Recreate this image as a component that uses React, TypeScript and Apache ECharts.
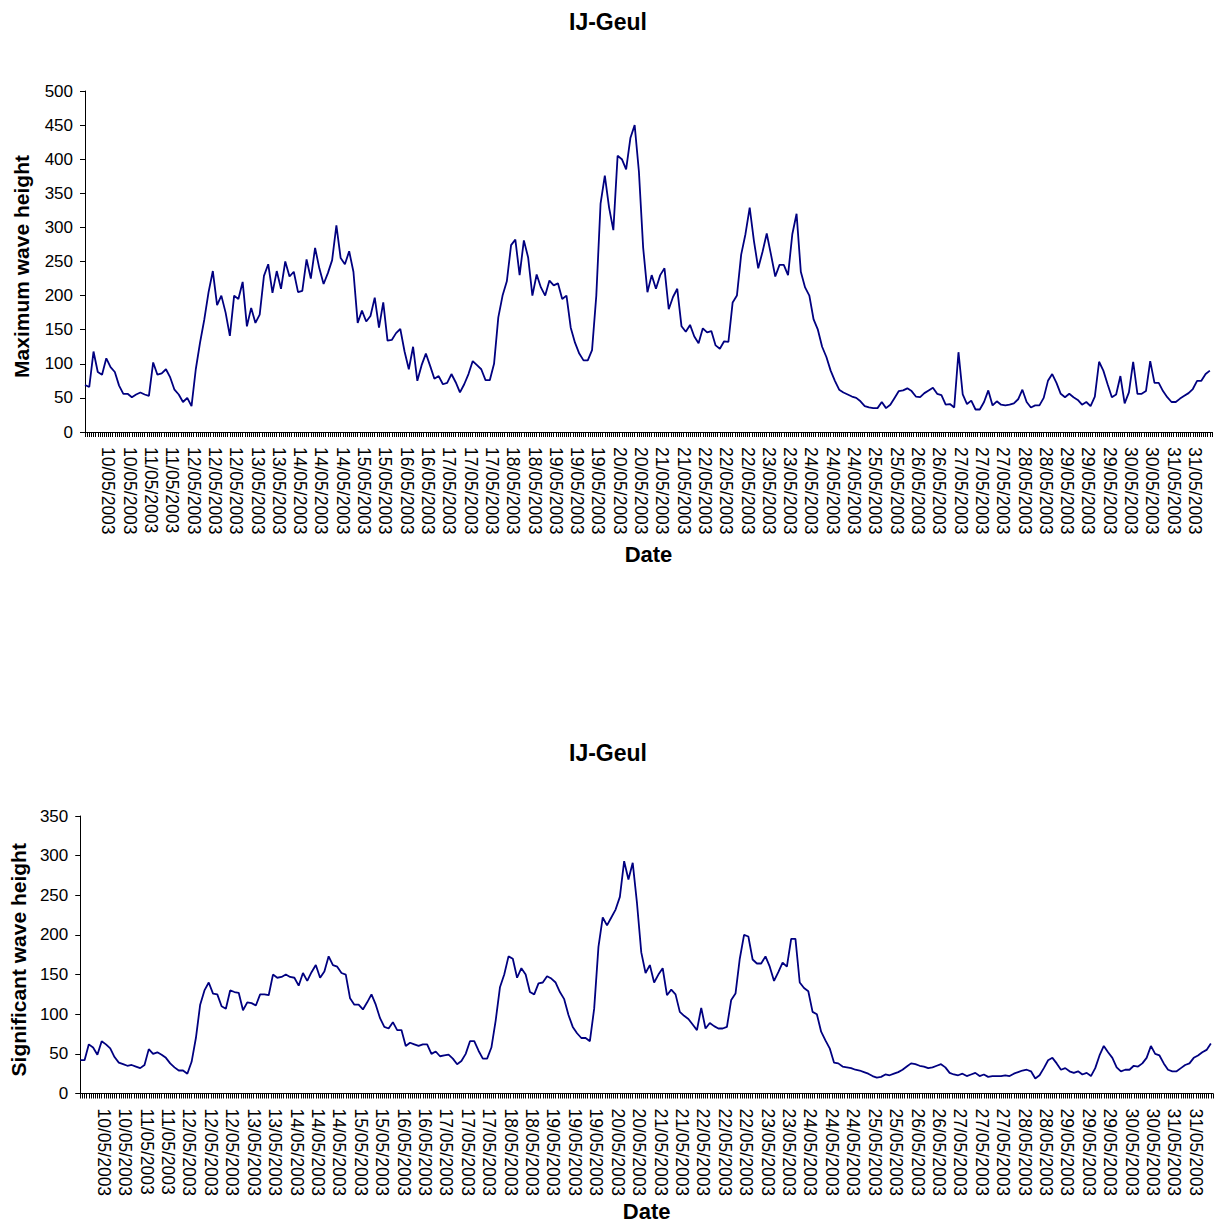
import React, { useEffect, useRef } from "react";
import * as echarts from "echarts";

// Hourly category axis: first category 09/05/2003 21:00, 530 hours in total
const START_UTC = Date.UTC(2003, 4, 9, 21);
const HOURS = 530;
const STEP = 2; // hours between the readings below
const FIRST_LABEL = 11; // 10/05/2003 08:00
const LABEL_EVERY = 10;

const pad = (n: number) => (n < 10 ? "0" + n : "" + n);
const categories: string[] = Array.from({ length: HOURS }, (_, i) => {
  const d = new Date(START_UTC + i * 3600000);
  return `${pad(d.getUTCDate())}/${pad(d.getUTCMonth() + 1)}/${d.getUTCFullYear()}`;
});

// Maximum wave height, one reading every 2 hours
const maxWave = [
  69, 66, 118, 88, 84, 108, 95, 88, 68, 56,
  56, 51, 55, 58, 55, 53, 102, 84, 86, 92,
  80, 62, 55, 44, 50, 38, 92, 131, 165, 205,
  236, 186, 200, 175, 141, 200, 195, 220, 155, 182,
  160, 172, 229, 246, 204, 236, 210, 250, 228, 235,
  205, 207, 253, 225, 270, 240, 217, 233, 252, 303,
  255, 246, 265, 235, 160, 178, 162, 170, 197, 153,
  190, 134, 135, 145, 151, 118, 92, 125, 75, 98,
  115, 97, 78, 82, 70, 72, 85, 73, 58, 70,
  85, 104, 98, 92, 76, 76, 100, 168, 200, 221,
  274, 282, 230, 281, 256, 200, 231, 212, 200, 222,
  215, 218, 195, 200, 153, 131, 115, 105, 105, 120,
  200, 335, 376, 329, 296, 405, 400, 385, 431, 450,
  382, 270, 205, 230, 210, 230, 240, 180, 198, 210,
  155, 147, 157, 140, 130, 152, 146, 148, 127, 122,
  133, 132, 190, 200, 260, 290, 329, 280, 240, 264,
  291, 260, 228, 245, 245, 230, 290, 320, 235, 212,
  200, 165, 150, 125, 110, 90, 75, 62, 58, 55,
  52, 50, 45, 38, 36, 35, 35, 44, 35, 40,
  50, 60, 61, 64, 60, 52, 51, 57, 61, 65,
  56, 54, 40, 41, 36, 117, 55, 41, 46, 33,
  33, 44, 61, 39, 45, 40, 39, 40, 42, 48,
  62, 44, 36, 39, 39, 50, 75, 85, 72, 56,
  51, 56, 51, 47, 40, 44, 38, 52, 103, 90,
  70, 51, 55, 82, 42, 58, 103, 56, 56, 60,
  104, 72, 72, 60, 51, 44, 44, 49, 53, 57,
  63, 75, 75, 85, 90,
];

// Significant wave height, one reading every 2 hours
const sigWave = [
  42, 42, 62, 58, 49, 66, 62, 57, 46, 39,
  37, 35, 36, 34, 32, 36, 56, 50, 52, 49,
  45, 38, 33, 29, 29, 25, 40, 70, 112, 130,
  140, 126, 125, 110, 107, 130, 128, 127, 105, 115,
  114, 111, 125, 125, 124, 150, 146, 147, 150, 147,
  146, 136, 152, 142, 153, 162, 146, 154, 173, 162,
  160, 152, 150, 120, 112, 112, 106, 115, 125, 112,
  95, 84, 82, 90, 80, 80, 60, 64, 62, 60,
  62, 62, 50, 53, 47, 48, 49, 44, 37, 41,
  50, 66, 66, 54, 44, 44, 58, 92, 134, 150,
  173, 170, 146, 158, 150, 128, 125, 139, 140, 148,
  145, 140, 128, 119, 99, 84, 76, 70, 70, 66,
  107, 185, 222, 212, 222, 232, 248, 293, 270, 291,
  240, 178, 152, 162, 140, 150, 158, 124, 131, 125,
  103, 98, 94, 87, 80, 108, 82, 89, 85, 82,
  82, 84, 118, 126, 170, 200, 198, 169, 164, 164,
  173, 160, 142, 153, 165, 160, 195, 195, 140, 133,
  129, 103, 100, 78, 67, 57, 39, 38, 34, 33,
  32, 30, 29, 27, 25, 22, 20, 21, 24, 23,
  25, 27, 30, 34, 38, 37, 35, 34, 32, 33,
  35, 37, 33, 26, 24, 23, 25, 22, 24, 26,
  22, 24, 21, 22, 22, 22, 23, 22, 25, 27,
  29, 30, 28, 19, 23, 32, 42, 45, 38, 30,
  32, 28, 26, 28, 24, 26, 22, 32, 48, 60,
  52, 45, 33, 28, 30, 30, 35, 34, 38, 45,
  60, 50, 48, 38, 30, 28, 28, 32, 36, 38,
  45, 48, 52, 55, 63,
];

const TITLE = "IJ-Geul";
const X_NAME = "Date";
const Y_NAMES = ["Maximum wave height", "Significant wave height"];
const Y_MAX = [500, 350];
const Y_STEP = 50;

const FONT = "'Liberation Sans', Arial, Helvetica, sans-serif";

function xAxis(gridIndex: number, nameGap: number) {
  return {
    gridIndex,
    type: "category",
    data: categories,
    boundaryGap: false,
    axisLine: { show: true, lineStyle: { color: "#000", width: 1 } },
    axisTick: { show: true, interval: 0, length: 5, lineStyle: { color: "#000", width: 1 } },
    axisLabel: {
      interval: (index: number) => index >= FIRST_LABEL && (index - FIRST_LABEL) % LABEL_EVERY === 0,
      rotate: -90,
      margin: 15,
      color: "#000",
      fontSize: 17.5,
      fontFamily: FONT,
    },
    splitLine: { show: false },
    name: X_NAME,
    nameLocation: "middle",
    nameGap,
    nameTextStyle: { color: "#000", fontSize: 22, fontWeight: "bold", fontFamily: FONT },
  };
}

function yAxis(gridIndex: number, nameGap: number) {
  return {
    gridIndex,
    type: "value",
    min: 0,
    max: Y_MAX[gridIndex],
    interval: Y_STEP,
    splitLine: { show: false },
    axisLine: { show: true, lineStyle: { color: "#000", width: 1 } },
    axisTick: { show: true, length: 5, lineStyle: { color: "#000", width: 1 } },
    axisLabel: { color: "#000", fontSize: 17, margin: 12, fontFamily: FONT },
    name: Y_NAMES[gridIndex],
    nameLocation: "middle",
    nameRotate: 90,
    nameGap,
    nameTextStyle: {
      color: "#000",
      fontSize: 21,
      fontWeight: "bold",
      fontFamily: FONT,
      padding: [0, 10, 0, 0],
    },
  };
}

function lineSeries(index: number, values: number[]) {
  return {
    type: "line",
    xAxisIndex: index,
    yAxisIndex: index,
    data: values.map((v, j) => [j * STEP, v]),
    showSymbol: false,
    symbol: "none",
    lineStyle: { color: "#000080", width: 1.8 },
    itemStyle: { color: "#000080" },
  };
}

export default function App() {
  const ref = useRef<HTMLDivElement>(null);
  useEffect(() => {
    if (!ref.current) return;
    const chart = echarts.init(ref.current, null, { renderer: "svg" });
    chart.setOption({
      animation: false,
      backgroundColor: "#fff",
      title: [
        { text: TITLE, left: "center", top: 5, textStyle: { color: "#000", fontSize: 23, fontWeight: "bold", fontFamily: FONT } },
        { text: TITLE, left: "center", top: 736, textStyle: { color: "#000", fontSize: 23, fontWeight: "bold", fontFamily: FONT } },
      ],
      grid: [
        { left: 85, right: 4, top: 91, height: 341 },
        { left: 79, right: 3, top: 816, height: 283 },
      ],
      xAxis: [xAxis(0, 111), xAxis(1, 106)],
      yAxis: [yAxis(0, 53), yAxis(1, 49)],
      series: [lineSeries(0, maxWave), lineSeries(1, sigWave)],
    });
    return () => chart.dispose();
  }, []);
  return (
    <div
      ref={ref}
      style={{ position: "absolute", left: 0, top: 0, width: 1216, height: 1223 }}
    />
  );
}
